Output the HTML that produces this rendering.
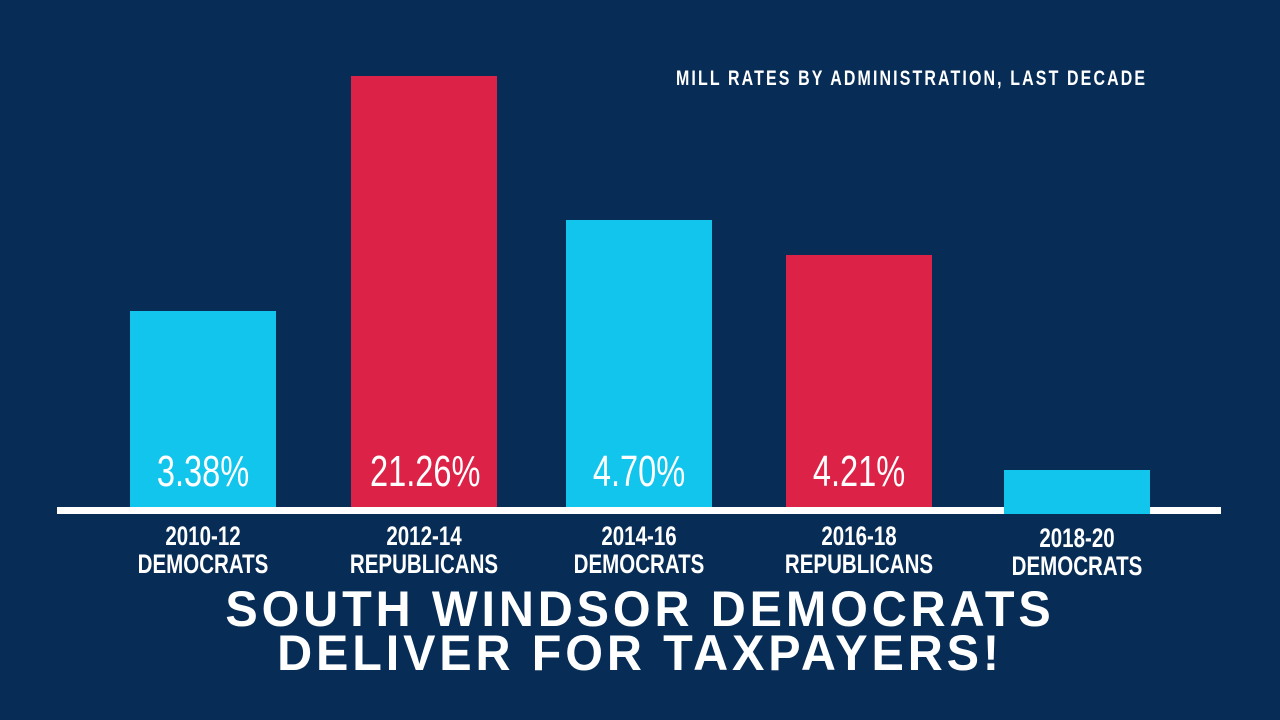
<!DOCTYPE html>
<html><head><meta charset="utf-8"><style>
html,body{margin:0;padding:0}
body{width:1280px;height:720px;background:#072c55;position:relative;overflow:hidden;font-family:"Liberation Sans",sans-serif;color:#fff}
.bar{position:absolute}
.c{background:#12c5ec}.r{background:#dc2246}
.v{position:absolute;top:448px;width:146px;text-align:center;font-size:44px;line-height:48px;transform:scaleX(0.74);transform-origin:center}
.l{position:absolute;top:522px;width:200px;text-align:center;font-weight:bold;font-size:27px;line-height:28px;transform:scaleX(0.76);transform-origin:center}
.t{position:absolute;left:0;width:1280px;text-align:center;font-weight:bold;font-size:50px;letter-spacing:4px;line-height:44px;transform:scaleX(0.97);transform-origin:center}
</style></head><body>
<div style="position:absolute;left:676px;top:67px;font-weight:bold;font-size:21px;letter-spacing:2.8px;white-space:nowrap;transform:scaleX(0.76);transform-origin:left">MILL RATES BY ADMINISTRATION, LAST DECADE</div>
<div class="bar c" style="left:130px;top:311px;width:146px;height:197px"></div>
<div class="bar r" style="left:351px;top:76px;width:146px;height:432px"></div>
<div class="bar c" style="left:566px;top:220px;width:146px;height:288px"></div>
<div class="bar r" style="left:786px;top:255px;width:146px;height:253px"></div>
<div style="position:absolute;left:57px;top:507px;width:1164px;height:7px;background:#fff"></div>
<div class="bar c" style="left:1004px;top:470px;width:146px;height:44px"></div>
<div class="v" style="left:130px">3.38%</div>
<div class="v" style="left:351px">21.26%</div>
<div class="v" style="left:566px">4.70%</div>
<div class="v" style="left:786px">4.21%</div>
<div class="l" style="left:103px">2010-12<br>DEMOCRATS</div>
<div class="l" style="left:324px">2012-14<br>REPUBLICANS</div>
<div class="l" style="left:539px">2014-16<br>DEMOCRATS</div>
<div class="l" style="left:759px">2016-18<br>REPUBLICANS</div>
<div class="l" style="left:977px;top:524px">2018-20<br>DEMOCRATS</div>
<div class="t" style="top:587px">SOUTH WINDSOR DEMOCRATS</div>
<div class="t" style="top:631px">DELIVER FOR TAXPAYERS!</div>
</body></html>
